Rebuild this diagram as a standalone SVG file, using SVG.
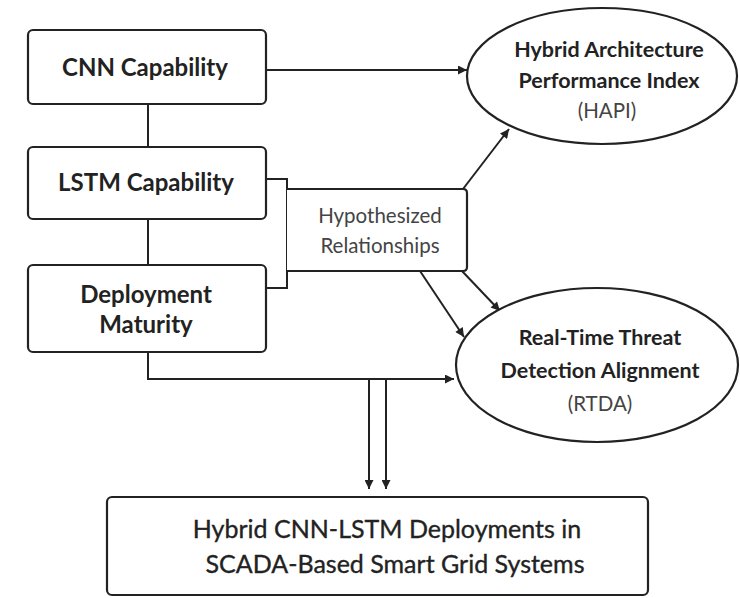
<svg xmlns="http://www.w3.org/2000/svg" width="740" height="598" viewBox="0 0 740 598">
<defs>
<style>
.box{fill:#fff;stroke:#222;stroke-width:2.2}
.ln{fill:none;stroke:#222;stroke-width:2}
.t{font-family:Lato,"Open Sans","Liberation Sans",sans-serif;fill:#222;text-anchor:middle}
.b{font-weight:bold;font-size:24px}
.e{font-weight:bold;font-size:21.5px}
.n{font-size:20.5px;fill:#444}
.h{font-size:20.5px;fill:#444}
.f{font-size:25px;fill:#222;stroke:#222;stroke-width:0.35}
</style>
<marker id="ah" viewBox="0 0 10 10" refX="10" refY="5" markerWidth="10" markerHeight="9" markerUnits="userSpaceOnUse" orient="auto">
<path d="M0,0 L10,5 L0,10 z" fill="#222"/>
</marker>
</defs>
<rect width="740" height="598" fill="#fff"/>
<g id="connectors">
<line class="ln" x1="148" y1="104" x2="148" y2="147"/>
<line class="ln" x1="148" y1="219" x2="148" y2="265"/>
<path class="ln" d="M266,179 H287 V288 H266"/>
<line class="ln" x1="266" y1="70" x2="467" y2="70" marker-end="url(#ah)"/>
<line class="ln" x1="463" y1="189" x2="509" y2="129" marker-end="url(#ah)"/>
<line class="ln" x1="420" y1="271" x2="464" y2="337" marker-end="url(#ah)"/>
<line class="ln" x1="462" y1="271" x2="500" y2="311" marker-end="url(#ah)"/>
<path class="ln" d="M148,352 V379 H454" marker-end="url(#ah)"/>
<line class="ln" x1="369" y1="379" x2="369" y2="489" marker-end="url(#ah)"/>
<line class="ln" x1="386" y1="379" x2="386" y2="489" marker-end="url(#ah)"/>
</g>
<g id="cnn">
<rect class="box" x="28" y="30" width="238" height="74" rx="5"/>
<text class="t b" x="145" y="76">CNN Capability</text>
</g>
<g id="lstm">
<rect class="box" x="28" y="147" width="238" height="72" rx="5"/>
<text class="t b" x="146" y="191">LSTM Capability</text>
</g>
<g id="deployment">
<rect class="box" x="28" y="265" width="238" height="87" rx="5"/>
<text class="t b" x="146" y="303">Deployment</text>
<text class="t b" x="146" y="333">Maturity</text>
</g>
<g id="hypothesized">
<path class="box" d="M287,189 H463 Q467,189 467,193 V267 Q467,271 463,271 H287"/>
<text class="t h" x="380" y="223">Hypothesized</text>
<text class="t h" x="380" y="253">Relationships</text>
</g>
<g id="hapi">
<ellipse class="box" cx="602" cy="76" rx="135" ry="68"/>
<text class="t e" x="609" y="57">Hybrid Architecture</text>
<text class="t e" x="609" y="88">Performance Index</text>
<text class="t n" x="607" y="118">(HAPI)</text>
</g>
<g id="rtda">
<ellipse class="box" cx="597" cy="365" rx="141" ry="77"/>
<text class="t e" x="600" y="345">Real-Time Threat</text>
<text class="t e" x="600" y="378">Detection Alignment</text>
<text class="t n" x="600" y="411">(RTDA)</text>
</g>
<g id="deployments">
<rect class="box" x="107" y="497" width="541" height="98" rx="5"/>
<text class="t f" x="387" y="538">Hybrid CNN-LSTM Deployments in</text>
<text class="t f" x="395" y="573">SCADA-Based Smart Grid Systems</text>
</g>
</svg>
